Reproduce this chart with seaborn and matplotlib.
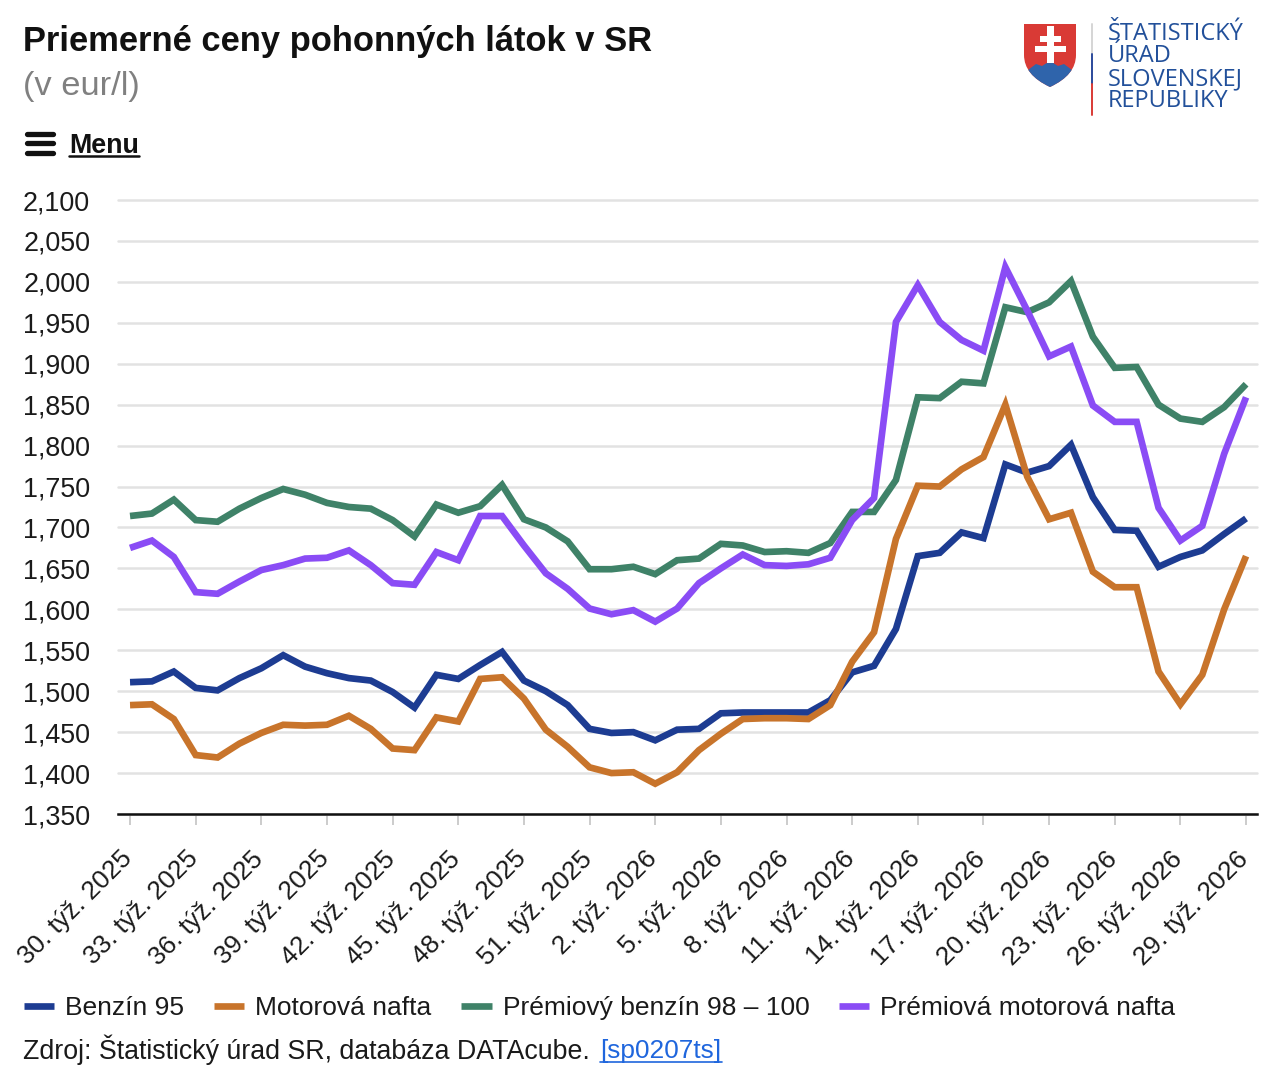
import pandas as pd
import seaborn as sns
import matplotlib.pyplot as plt
from matplotlib.patches import PathPatch, Rectangle, Polygon
from matplotlib.path import Path
from matplotlib.transforms import ScaledTranslation

W, H = 1280, 1079

weeks = ([f'{w}. týž. 2025' for w in range(30, 53)] +
         [f'{w}. týž. 2026' for w in range(1, 30)])

benzin = [1.511, 1.512, 1.524, 1.504, 1.501, 1.516, 1.528, 1.544, 1.530, 1.522,
          1.516, 1.513, 1.499, 1.480, 1.520, 1.515, 1.532, 1.548, 1.513, 1.500,
          1.483, 1.454, 1.449, 1.450, 1.440, 1.453, 1.454, 1.473, 1.474, 1.474,
          1.474, 1.474, 1.489, 1.523, 1.531, 1.576, 1.665, 1.669, 1.694, 1.687,
          1.777, 1.767, 1.775, 1.801, 1.737, 1.697, 1.696, 1.652, 1.664, 1.672,
          1.692, 1.711]
nafta = [1.483, 1.484, 1.466, 1.422, 1.419, 1.436, 1.449, 1.459, 1.458, 1.459,
         1.470, 1.454, 1.430, 1.428, 1.468, 1.463, 1.515, 1.517, 1.491, 1.453,
         1.432, 1.407, 1.400, 1.401, 1.387, 1.401, 1.428, 1.448, 1.466, 1.467,
         1.467, 1.466, 1.483, 1.536, 1.572, 1.686, 1.751, 1.750, 1.771, 1.786,
         1.850, 1.762, 1.710, 1.718, 1.646, 1.627, 1.627, 1.524, 1.484, 1.520,
         1.600, 1.665]
premium_benzin = [1.714, 1.717, 1.734, 1.709, 1.707, 1.723, 1.736, 1.747, 1.740,
                  1.730, 1.725, 1.723, 1.709, 1.689, 1.728, 1.718, 1.726, 1.752,
                  1.710, 1.700, 1.683, 1.649, 1.649, 1.652, 1.643, 1.660, 1.662,
                  1.680, 1.678, 1.670, 1.671, 1.669, 1.681, 1.719, 1.719, 1.758,
                  1.859, 1.858, 1.878, 1.876, 1.969, 1.963, 1.975, 2.001, 1.933,
                  1.895, 1.896, 1.850, 1.833, 1.829, 1.847, 1.875]
premium_nafta = [1.675, 1.684, 1.664, 1.621, 1.619, 1.634, 1.648, 1.654, 1.662,
                 1.663, 1.672, 1.654, 1.632, 1.630, 1.670, 1.660, 1.714, 1.714,
                 1.678, 1.644, 1.625, 1.601, 1.594, 1.599, 1.585, 1.601, 1.632,
                 1.650, 1.667, 1.654, 1.653, 1.655, 1.663, 1.709, 1.736, 1.951,
                 1.996, 1.951, 1.929, 1.916, 2.018, 1.965, 1.909, 1.921, 1.849,
                 1.829, 1.829, 1.724, 1.684, 1.702, 1.790, 1.859]

series = ['Benzín 95', 'Motorová nafta', 'Prémiový benzín 98 – 100',
          'Prémiová motorová nafta']
colors = ['#1d3c92', '#c8742b', '#3f8268', '#8a4cf5']
y_ticks = [1.35, 1.4, 1.45, 1.5, 1.55, 1.6, 1.65, 1.7, 1.75, 1.8, 1.85, 1.9,
           1.95, 2.0, 2.05, 2.1]
y_labels = ['1,350', '1,400', '1,450', '1,500', '1,550', '1,600', '1,650',
            '1,700', '1,750', '1,800', '1,850', '1,900', '1,950', '2,000',
            '2,050', '2,100']

df = pd.concat([
    pd.DataFrame({'week': weeks, 'price': vals, 'fuel': name})
    for name, vals in zip(series, [benzin, nafta, premium_benzin, premium_nafta])
])

sns.set_theme(style='white')
plt.rcParams['font.family'] = ['Liberation Sans', 'DejaVu Sans']

fig = plt.figure(figsize=(W / 100, H / 100), dpi=100)
ax = fig.add_axes([118 / W, 1 - 814 / H, (1257 - 118) / W, (814 - 200) / H])

sns.lineplot(data=df, x='week', y='price', hue='fuel', hue_order=series,
             palette=colors, sort=False, linewidth=4.8, ax=ax,
             solid_joinstyle='miter', solid_capstyle='butt')

ax.set_xlim(-0.55, 51.5)
ax.set_ylim(1.35, 2.1)
ax.set_xlabel('')
ax.set_ylabel('')
ax.set_yticks(y_ticks)
ax.set_yticklabels(y_labels, fontsize=19.4, color='#1a1a1a')
ax.set_xticks(range(0, 52, 3))
ax.set_xticklabels(weeks[::3], fontsize=18.8, color='#1a1a1a', rotation=45,
                   ha='right', rotation_mode='anchor')
ax.grid(axis='y', color='#e2e2e2', linewidth=1.8)
for line in ax.get_ygridlines():
    line.set_clip_on(False)
ax.set_axisbelow(True)
ax.tick_params(axis='y', length=0, pad=20)
ax.tick_params(axis='x', length=8, width=1.4, color='#cccccc', pad=15.5, bottom=True)
# pull the slanted labels back towards their ticks
shift = ScaledTranslation(-10 / 100, 0, fig.dpi_scale_trans)
for label in ax.get_xticklabels():
    label.set_transform(label.get_transform() + shift)
sns.despine(ax=ax, left=True)
ax.spines['bottom'].set_color('#111111')
ax.spines['bottom'].set_linewidth(1.8)
ax.spines['bottom'].set_zorder(5)

ax.legend(loc='upper left', bbox_to_anchor=(24 / W, 1 - 996 / H),
          bbox_transform=fig.transFigure, ncol=4, frameon=False, fontsize=19,
          handlelength=1.15, handletextpad=0.42, columnspacing=1.12,
          borderpad=0, borderaxespad=0, labelcolor='#1a1a1a')

# overlay in pixel coordinates for the page furniture around the chart
page = fig.add_axes([0, 0, 1, 1], zorder=10)
page.set_xlim(0, W)
page.set_ylim(H, 0)
page.axis('off')

page.text(23, 41, 'Priemerné ceny pohonných látok v SR', fontsize=24.85,
          fontweight='bold', color='#111111', va='center')
page.text(23, 87, '(v eur/l)', fontsize=24.8, color='#808080', va='center')

# menu
for y in [134, 143, 153]:
    page.plot([27, 53], [y, y], color='#111111', lw=3.8, solid_capstyle='round')
page.text(69, 146, 'Menu', fontsize=19.4, fontweight='bold', color='#111111',
          va='center')
page.plot([69, 139], [156, 156], color='#111111', lw=1.8)

# source
page.text(23, 1050, 'Zdroj: Štatistický úrad SR, databáza DATAcube.', fontsize=19.3,
          color='#1a1a1a', va='center')
page.text(600, 1051, '[sp0207ts]', fontsize=18.9, color='#1f66dd', va='center')
page.plot([600, 722], [1062, 1062], color='#1f66dd', lw=1.2)

# logo
shield = Path([(1024, 24), (1076, 24), (1076, 55), (1076, 75), (1050, 87),
               (1024, 75), (1024, 55), (1024, 24)],
              [Path.MOVETO, Path.LINETO, Path.LINETO, Path.CURVE3, Path.CURVE3,
               Path.CURVE3, Path.CURVE3, Path.CLOSEPOLY])
red = PathPatch(shield, facecolor='#d93a35', edgecolor='none')
page.add_patch(red)
hills = Polygon([(1028, 70), (1036, 64), (1042, 66), (1050, 61), (1058, 66),
                 (1064, 64), (1072, 70), (1076, 90), (1024, 90)],
                facecolor='#2f64ab', edgecolor='none')
page.add_patch(hills)
hills.set_clip_path(red)
for x, y, w, h in [(1047, 26, 7, 37), (1040, 36, 21, 6), (1035, 46, 31, 6)]:
    page.add_patch(Rectangle((x, y), w, h, facecolor='white', edgecolor='none'))
page.plot([1092, 1092], [24, 54], color='#d5d5d5', lw=1.4)
page.plot([1092, 1092], [54, 84], color='#2b4a9b', lw=1.4)
page.plot([1092, 1092], [84, 115], color='#d93a35', lw=1.4)
for y, line in zip([34, 56, 79, 101],
                   ['ŠTATISTICKÝ', 'ÚRAD', 'SLOVENSKEJ', 'REPUBLIKY']):
    page.text(1108, y, line, fontsize=17, color='#22509a', va='center',
              family=['Open Sans', 'DejaVu Sans'])

fig.savefig('out.png', dpi=100)
